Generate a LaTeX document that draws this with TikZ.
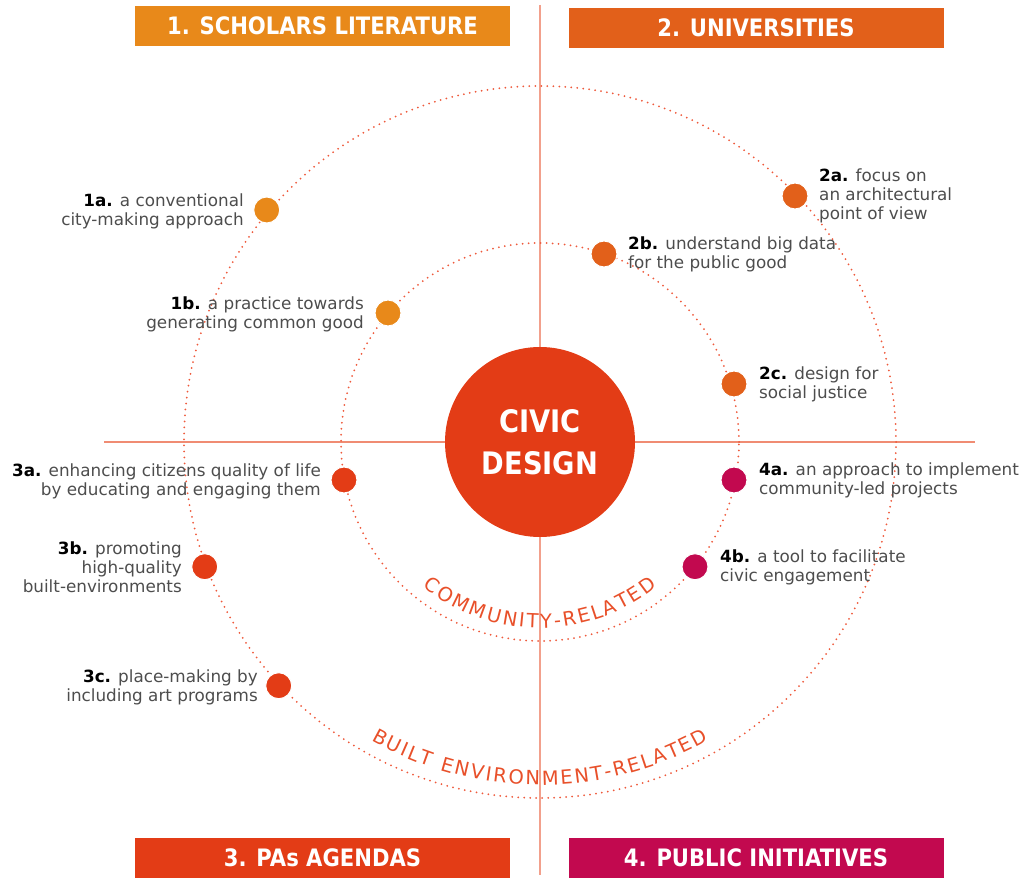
\documentclass[tikz,border=0pt]{standalone}
\usepackage{fontspec}
\setmainfont{DejaVu Sans}
\newfontfamily\headfont[FakeStretch=0.88]{DejaVu Sans}
\newfontfamily\arcfontfam{DejaVu Sans}
\usetikzlibrary{decorations.text}
\definecolor{cOne}{RGB}{232,137,26}
\definecolor{cTwo}{RGB}{226,96,26}
\definecolor{cThree}{RGB}{227,60,22}
\definecolor{cFour}{RGB}{194,9,79}
\definecolor{axiscol}{RGB}{240,140,115}
\definecolor{vaxiscol}{RGB}{242,160,140}
\definecolor{dotcol}{RGB}{238,90,60}
\definecolor{txtgray}{RGB}{77,77,77}
\definecolor{arccol}{RGB}{232,80,42}
\tikzset{
  header/.style={fill=#1, minimum width=375pt, minimum height=40pt, inner sep=0pt,
    text=white, font=\headfont\bfseries\fontsize{24}{28}\selectfont},
  axisline/.style={draw=#1, line width=1.6pt},
  dotcircle/.style={draw=dotcol, line width=2pt, line cap=round, dash pattern=on 0pt off 6pt},
  bullet/.style={circle, fill=#1, draw=white, line width=1pt, minimum size=26pt, inner sep=0pt},
  lblR/.style={anchor=east, align=right, inner sep=0pt, text=txtgray, font=\fontsize{16.8}{19}\selectfont},
  lblL/.style={anchor=west, align=left, inner sep=0pt, text=txtgray, font=\fontsize{16.8}{19}\selectfont},
}
\newcommand{\lab}[1]{{\color{black}\bfseries #1}}
\begin{document}
\begin{tikzpicture}[x=1pt,y=1pt]
\useasboundingbox (0,0) rectangle (1034,879);
\coordinate (c) at (540,437);
% axes
\coordinate (axL) at (104,437);
\coordinate (axR) at (975,437);
\coordinate (axT) at (540,874);
\coordinate (axB) at (540,4);
\draw[axisline=axiscol] (axL) -- (axR);
\draw[axisline=vaxiscol] (axT) -- (axB);
% dotted circles
\draw[dotcircle] (c) circle[radius=199];
\draw[dotcircle] (c) circle[radius=356];
% center
\node[circle, fill=cThree, minimum size=190pt, inner sep=0pt, text=white,
  font=\headfont\bfseries\fontsize{31}{42}\selectfont, align=center] (civic) at (c) {CIVIC\\DESIGN};
% arc texts
\path[decorate, decoration={text along path, text={|\arcfontfam\fontsize{19.5}{19.5}\selectfont|COMMUNITY-RELATED},
  text align=fit to path, text color=arccol}]
  ([shift={(231:186)}]c) arc[start angle=231, end angle=309, radius=186];
\path[decorate, decoration={text along path, text={|\arcfontfam\fontsize{19.5}{19.5}\selectfont|BUILT ENVIRONMENT-RELATED},
  text align=fit to path, text color=arccol}]
  ([shift={(240.5:343)}]c) arc[start angle=240.5, end angle=299.5, radius=343];
% headers
\node[header=cOne] (h1) at (322.5,853) {1. SCHOLARS LITERATURE};
\node[header=cTwo] (h2) at (756,851) {2. UNIVERSITIES};
\node[header=cThree] (h3) at (322.5,21) {3. PAs AGENDAS};
\node[header=cFour] (h4) at (756,21) {4. PUBLIC INITIATIVES};
% bullets
\node[bullet=cOne] (d1a) at (266.7,669) {};
\node[bullet=cOne] (d1b) at (388,566) {};
\node[bullet=cTwo] (d2a) at (795,683) {};
\node[bullet=cTwo] (d2b) at (604,625) {};
\node[bullet=cTwo] (d2c) at (734,495) {};
\node[bullet=cThree] (d3a) at (344,399) {};
\node[bullet=cThree] (d3b) at (204.7,312.3) {};
\node[bullet=cThree] (d3c) at (278.7,193.3) {};
\node[bullet=cFour] (d4a) at (734,399) {};
\node[bullet=cFour] (d4b) at (695,312.3) {};
% labels
\node[lblR] (t1a) at (244,668) {\lab{1a.} a conventional\\city-making approach};
\node[lblR] (t1b) at (364,565) {\lab{1b.} a practice towards\\generating common good};
\node[lblL] (t2a) at (819,683) {\lab{2a.} focus on\\an architectural\\point of view};
\node[lblL] (t2b) at (628,624.5) {\lab{2b.} understand big data\\for the public good};
\node[lblL] (t2c) at (759,495) {\lab{2c.} design for\\social justice};
\node[lblR] (t3a) at (321,398) {\lab{3a.} enhancing citizens quality of life\\by educating and engaging them};
\node[lblR] (t3b) at (182,312) {\lab{3b.} promoting\\high-quality\\built-environments};
\node[lblR] (t3c) at (258,192) {\lab{3c.} place-making by\\including art programs};
\node[lblL] (t4a) at (759,399) {\lab{4a.} an approach to implement\\community-led projects};
\node[lblL] (t4b) at (720,312) {\lab{4b.} a tool to facilitate\\civic engagement};
\end{tikzpicture}
\end{document}
